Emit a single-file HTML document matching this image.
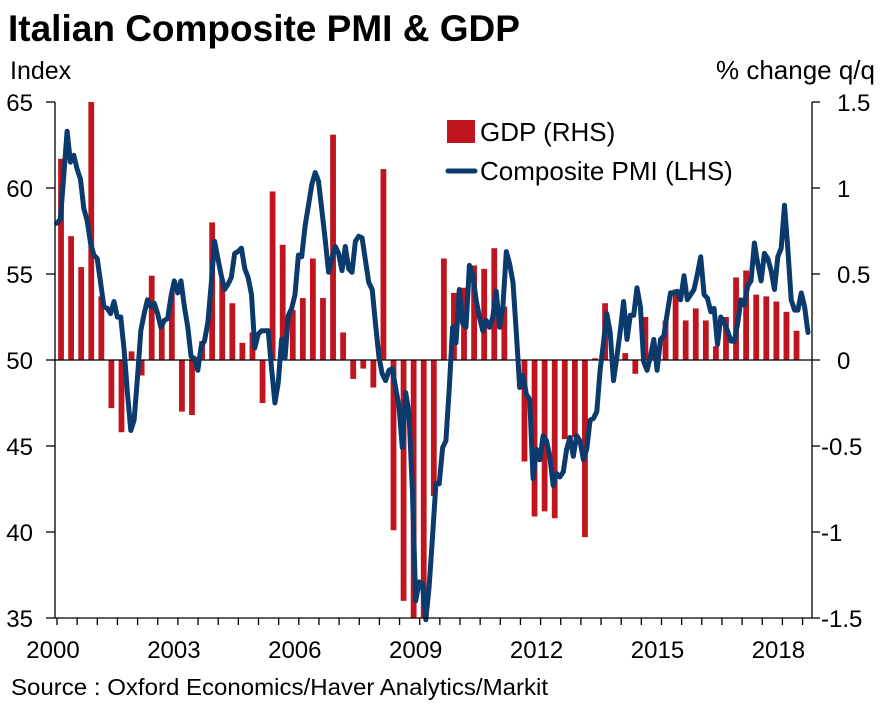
<!DOCTYPE html>
<html><head><meta charset="utf-8">
<style>
html,body{margin:0;padding:0;background:#fff;}
body{width:884px;height:708px;overflow:hidden;font-family:"Liberation Sans",Arial,sans-serif;}
svg text{font-family:"Liberation Sans",Arial,sans-serif;}
</style></head>
<body>
<svg id="chart" width="884" height="708" viewBox="0 0 884 708" xmlns="http://www.w3.org/2000/svg">
<text x="8" y="41" font-size="37" font-weight="bold" fill="#000">Italian Composite PMI &amp; GDP</text>
<text x="10" y="79" font-size="25" fill="#000">Index</text>
<text x="875" y="79" font-size="26" fill="#000" text-anchor="end">% change q/q</text>
<g id="bars"></g>
<line x1="55" y1="360" x2="812" y2="360" stroke="#000" stroke-width="1.3"/>
<g id="line"></g>
<g id="axes"></g>
<g>
<rect x="447" y="120" width="28" height="23" fill="#c0151f"/>
<text x="480" y="141" font-size="26" fill="#000">GDP (RHS)</text>
<line x1="448" y1="171" x2="475" y2="171" stroke="#0b3a6c" stroke-width="5" stroke-linecap="round"/>
<text x="480" y="180" font-size="26" fill="#000">Composite PMI (LHS)</text>
</g>
<text x="11" y="695" font-size="23" fill="#000" textLength="537" lengthAdjust="spacingAndGlyphs">Source : Oxford Economics/Haver Analytics/Markit</text>
</svg>
<script>
const gdpValues = [1.17,0.72,0.54,1.55,0.37,-0.28,-0.42,0.05,-0.09,0.49,0.22,0.39,-0.30,-0.32,0.11,0.80,0.47,0.33,0.10,0.16,-0.25,0.98,0.67,0.29,0.36,0.59,0.36,1.31,0.16,-0.11,-0.05,-0.16,1.11,-0.99,-1.40,-1.6,-1.5,-0.79,0.59,0.39,0.42,0.55,0.53,0.65,0.31,0.0,-0.59,-0.91,-0.88,-0.92,-0.46,-0.45,-1.03,0.01,0.33,0.0,0.04,-0.08,0.25,0.05,0.23,0.41,0.23,0.30,0.23,0.08,0.25,0.48,0.52,0.38,0.37,0.34,0.28,0.17];
const pmiValues = [57.95,58.2,60.66,63.3,61.5,61.9,61.1,60.5,58.8,58.1,56.8,56.1,55.9,54.5,53.1,53.0,52.7,53.4,52.5,52.5,50.6,48.1,45.9,46.5,49.0,51.7,52.7,53.5,53.1,53.3,52.7,51.9,52.3,52.4,53.7,54.6,53.9,54.6,53.1,51.9,50.2,50.1,49.4,50.8,
51.1,52.2,54.4,56.9,55.9,54.9,54.1,54.4,54.8,56.2,56.3,56.5,55.3,54.8,53.8,50.7,51.5,51.7,51.7,51.7,49.5,47.5,48.7,51.2,50.1,52.6,53.0,53.8,56.1,56.0,57.8,59.0,60.2,
60.9,60.4,58.7,57.0,55.1,55.9,56.6,56.2,55.2,56.6,55.3,55.1,56.9,57.2,57.1,55.8,54.5,54.1,52.1,50.2,49.2,48.8,49.4,49.5,48.4,47.3,44.9,48.1,46.9,42.4,36.0,37.1,37.0,34.9,36.8,39.7,42.8,42.8,44.9,45.3,48.4,51.9,51.0,54.1,52.1,51.9,55.5,55.0,53.5,52.5,51.7,52.3,51.9,52.5,54.0,51.9,53.1,56.3,55.6,54.5,51.6,48.4,49.1,48.0,47.7,43.1,44.8,44.2,45.6,45.3,44.4,42.7,43.4,
43.2,43.5,44.8,45.5,44.4,45.6,45.3,44.2,44.8,46.5,46.6,47.0,49.4,51.0,52.7,51.6,48.8,50.2,51.7,53.4,51.2,52.6,52.6,54.2,53.1,49.9,49.4,50.2,51.2,49.4,51.2,51.4,52.7,53.9,53.9,54.0,53.5,54.9,53.5,53.8,54.1,55.0,56.0,53.8,53.6,52.8,53.0,50.9,52.5,52.2,51.7,51.1,51.1,52.1,53.5,53.2,54.3,54.6,56.8,55.6,54.6,56.2,55.9,55.2,54.1,56.0,56.5,59.0,56.4,53.5,52.9,52.9,53.9,53.1,51.6];
const yearLabels = ["2000","2003","2006","2009","2012","2015","2018"];
const leftTicks = [35,40,45,50,55,60,65];
const rightTicks = ["-1.5","-1","-0.5","0","0.5","1","1.5"];

const NS='http://www.w3.org/2000/svg';
const X0=57, PXY=40.3, PL=55, PR=812, PT=102, PB=618;
const nPmi = pmiValues.length;
const pmiSpanYears = (PR-4-X0)/PXY;
function xYear(t){return X0+t*PXY;}
function yL(v){return PB-(v-35)/30*(PB-PT);}
function yR(v){return PB-(v+1.5)/3*(PB-PT);}
function mk(tag,attrs,parent){const e=document.createElementNS(NS,tag);for(const k in attrs)e.setAttribute(k,attrs[k]);parent.appendChild(e);return e;}

const bars=document.getElementById('bars');
gdpValues.forEach((v,i)=>{
  const cv=Math.max(-1.5,Math.min(1.5,v));
  const x=xYear(i*0.25+0.1);
  const y0=yR(0), y1=yR(cv);
  const r=mk('rect',{x:x-2.9,y:Math.min(y0,y1),width:5.8,height:Math.abs(y1-y0),fill:'#c0151f'},bars);
  
  
});

const lg=document.getElementById('line');
let d='';
pmiValues.forEach((v,i)=>{
  const t=i/(nPmi-1)*pmiSpanYears;
  const cv=Math.max(34.6,v);
  d+=(i?'L':'M')+xYear(t).toFixed(1)+','+yL(cv).toFixed(1);
});
const p=mk('path',{d:d,fill:'none',stroke:'#0b3a6c','stroke-width':5,'stroke-linejoin':'round','stroke-linecap':'round'},lg);



const ax=document.getElementById('axes');
const a1=mk('line',{x1:PL,y1:PT,x2:PL,y2:PB,stroke:'#000','stroke-width':1.3},ax);


const a2=mk('line',{x1:PR,y1:PT,x2:PR,y2:PB,stroke:'#000','stroke-width':1.3},ax);


const a3=mk('line',{x1:PL,y1:PB,x2:PR,y2:PB,stroke:'#000','stroke-width':1.3},ax);


leftTicks.forEach(v=>{
  const y=yL(v);
  mk('line',{x1:PL-9,y1:y,x2:PL,y2:y,stroke:'#000','stroke-width':1.3},ax);
  const t=mk('text',{x:33,y:y+9,'font-size':24,'text-anchor':'end',fill:'#000'},ax);
  t.textContent=v;
  
  
});
rightTicks.forEach(s=>{
  const y=yR(parseFloat(s));
  mk('line',{x1:PR,y1:y,x2:PR+8,y2:y,stroke:'#000','stroke-width':1.3},ax);
  const t=mk('text',{x:s[0]==='-'?821:837,y:y+9,'font-size':24,fill:'#000'},ax);
  t.textContent=s;
  
  
});
for(let h=0;h<=37;h++){
  const x=xYear(h/2);
  if(x>PR) break;
  mk('line',{x1:x,y1:PB,x2:x,y2:PB+7,stroke:'#000','stroke-width':1.3},ax);
}
yearLabels.forEach(s=>{
  const x=xYear(parseInt(s)-2000);
  const t=mk('text',{x:x-4,y:658,'font-size':24,'text-anchor':'middle',fill:'#000'},ax);
  t.textContent=s;
  
  
});
</script>
</body></html>
